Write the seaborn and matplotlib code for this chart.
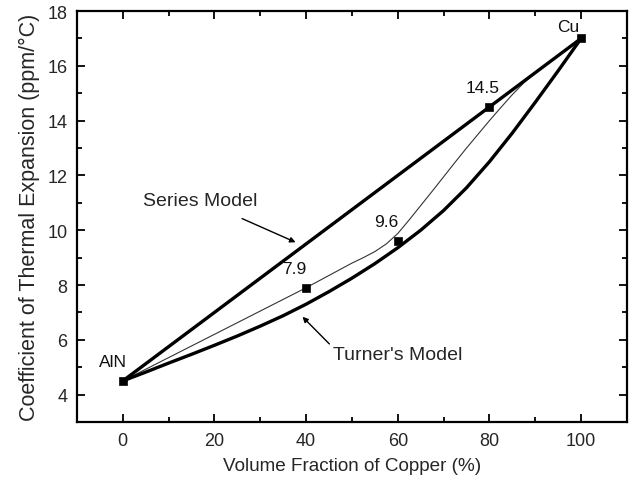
import matplotlib
matplotlib.use("Agg")
import matplotlib.pyplot as plt
import seaborn as sns
import pandas as pd
from matplotlib.ticker import MultipleLocator

# ---- data ----
series_x = [0, 100]
series_y = [4.5, 17.0]

turner_x = [0, 5, 10, 15, 20, 25, 30, 35, 40, 45, 50, 55, 60, 65, 70, 75, 80, 85, 90, 95, 100]
turner_y = [4.5, 4.82, 5.15, 5.47, 5.8, 6.14, 6.5, 6.88, 7.3, 7.76, 8.25, 8.78, 9.36,
            10.0, 10.72, 11.55, 12.5, 13.55, 14.67, 15.82, 17.0]

fit_x = [0, 10, 20, 30, 40, 45, 50, 52.5, 55, 57.5, 60, 62.5, 65, 67.5, 70, 72.5, 75,
         77.5, 80, 82.5, 85, 87.5, 90, 95, 100]
fit_y = [4.5, 5.35, 6.2, 7.05, 7.9, 8.35, 8.8, 9.0, 9.22, 9.5, 9.88, 10.38, 10.9, 11.42,
         11.95, 12.48, 13.0, 13.5, 14.0, 14.48, 14.95, 15.38, 15.75, 16.38, 17.0]

meas_x = [0, 40, 60, 80, 100]
meas_y = [4.5, 7.9, 9.6, 14.5, 17.0]
meas_labels = ["AlN", "7.9", "9.6", "14.5", "Cu"]
label_pos = [(-2.2, 5.2), (37.5, 8.6), (57.5, 10.3), (78.6, 15.2), (97.1, 17.45)]

sns.set_theme(style="ticks")
plt.rcParams['font.family'] = ['Liberation Sans', 'DejaVu Sans']

fig = plt.figure(figsize=(6.32, 4.81), dpi=100)
ax = fig.add_axes([0.1218, 0.1206, 0.8702, 0.8544])

sns.lineplot(x=fit_x, y=fit_y, ax=ax, color="#333333", lw=0.8, sort=False)
sns.lineplot(x=series_x, y=series_y, ax=ax, color="black", lw=2.4, sort=False)
sns.lineplot(x=turner_x, y=turner_y, ax=ax, color="black", lw=2.4, sort=False)
sns.scatterplot(x=meas_x, y=meas_y, ax=ax, marker="s", s=36, color="black",
                edgecolor="black", zorder=5)

for lab, (lx, ly) in zip(meas_labels, label_pos):
    ax.text(lx, ly, lab, ha="center", va="center", fontsize=12.5, color="#111111")

ax.annotate("Series Model", xy=(37.7, 9.56), xytext=(16.9, 11.1),
            ha="center", va="center", fontsize=14,
            arrowprops=dict(arrowstyle="-|>", color="black", lw=1.0,
                            shrinkA=12, shrinkB=0, mutation_scale=8))
ax.annotate("Turner's Model", xy=(39.2, 6.84), xytext=(59.9, 5.48),
            ha="center", va="center", fontsize=14,
            arrowprops=dict(arrowstyle="-|>", color="black", lw=1.0,
                            shrinkA=0, shrinkB=0, mutation_scale=8,
                            relpos=(0.0, 0.9)))

ax.set_xlim(-10, 110)
ax.set_ylim(3, 18)
ax.xaxis.set_minor_locator(MultipleLocator(10))
ax.yaxis.set_minor_locator(MultipleLocator(1))
ax.set_xticks([0, 20, 40, 60, 80, 100])
ax.set_yticks([4, 6, 8, 10, 12, 14, 16, 18])
ax.tick_params(which="both", direction="in", top=True, right=True,
               width=1.3, color="black", labelsize=13, pad=7)
ax.tick_params(which="major", length=6)
ax.tick_params(which="minor", length=3.5)
for sp in ax.spines.values():
    sp.set_linewidth(1.6)
    sp.set_color("black")

ax.set_xlabel("Volume Fraction of Copper (%)", fontsize=13.6, labelpad=6)
ax.set_ylabel("Coefficient of Thermal Expansion (ppm/°C)", fontsize=15.5, labelpad=5)

fig.savefig("out.png", dpi=100, facecolor="white")
